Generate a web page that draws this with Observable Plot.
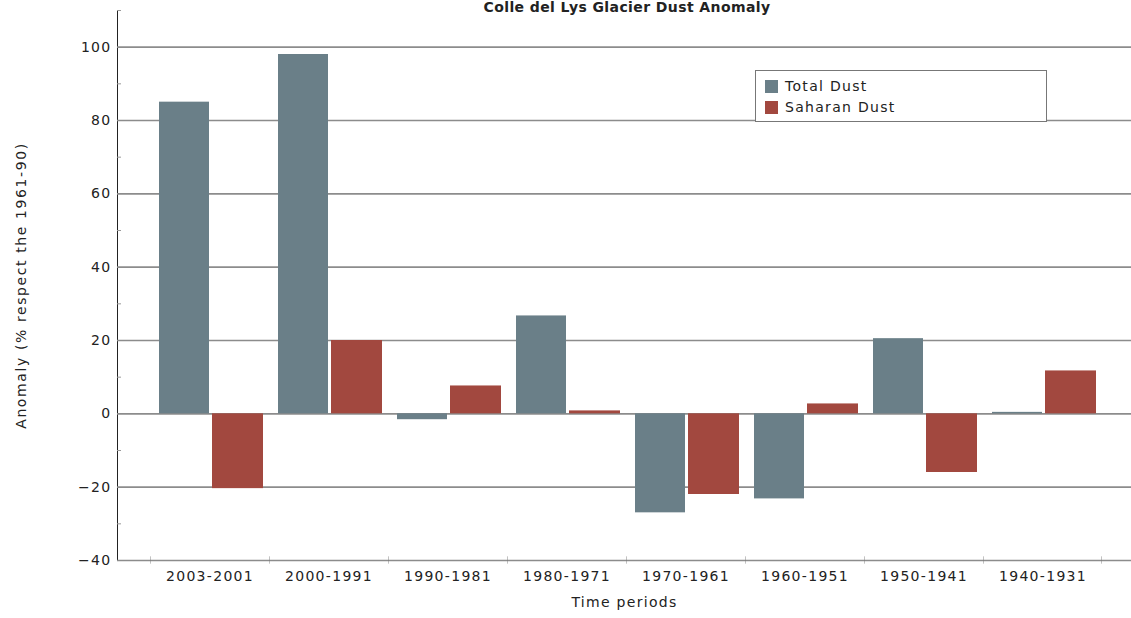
<!DOCTYPE html>
<html>
<head>
<meta charset="utf-8">
<script src="https://cdn.jsdelivr.net/npm/d3@7"></script>
<script src="https://cdn.jsdelivr.net/npm/@observablehq/plot@0.6"></script>
<style>
  html, body { margin: 0; padding: 0; background: #fff; overflow: hidden; }
  #wrap { position: relative; width: 1131px; height: 618px; font-family: "DejaVu Sans", sans-serif; }
  #title { position: absolute; left: 117px; width: 1020px; top: 0px; text-align: center; font-size: 14px; font-weight: bold; letter-spacing: 0.4px; line-height: 14px; color: #222; }
  #legend { position: absolute; left: 755px; top: 70px; width: 290px; height: 50px; border: 1px solid #777; background: #fff; font-size: 14px; letter-spacing: 1.3px; color: #222; }
  .item { position: absolute; left: 9px; display: flex; align-items: center; }
  .sw { width: 13px; height: 13px; margin-right: 7px; }
  #chart svg text { letter-spacing: 1.3px; }
  #chart g[aria-label="y-axis label"] text { font-size: 14px; letter-spacing: 1.6px; }
</style>
</head>
<body>
<div id="wrap">
  <div id="chart"></div>
  <div id="title">Colle del Lys Glacier Dust Anomaly</div>
  <div id="legend"></div>
</div>
<script>
const periods = ["2003-2001", "2000-1991", "1990-1981", "1980-1971", "1970-1961", "1960-1951", "1950-1941", "1940-1931"];
const totalDust = [85, 98, -1.6, 26.7, -27, -23.2, 20.5, 0.4];
const saharanDust = [-20.4, 20, 7.6, 0.8, -22, 2.7, -16, 11.7];
const seriesNames = ["Total Dust", "Saharan Dust"];
const seriesColors = ["#6a7f88", "#a2483f"];
const yTicks = [-40, -20, 0, 20, 40, 60, 80, 100];
const yMinorTicks = [-30, -10, 10, 30, 50, 70, 90, 110];

const W = 1131, H = 618, mL = 117, mR = 0, inL = 30, inR = 26;
const bw = (W - mL - mR - inL - inR) / periods.length;

const rows = periods.map((p, i) => ({period: p, total: totalDust[i], saharan: saharanDust[i]}));

const chart = Plot.plot({
  width: W,
  height: H,
  marginLeft: mL,
  marginRight: mR,
  marginTop: 10,
  marginBottom: 58,
  style: {fontFamily: "DejaVu Sans, sans-serif", fontSize: "14px", color: "#222", background: "#fff"},
  x: {domain: periods, padding: 0, insetLeft: inL, insetRight: inR, tickSize: 0, tickPadding: 11,
      label: "Time periods", labelAnchor: "center", labelOffset: 46, labelArrow: false},
  y: {domain: [-40, 110], ticks: yTicks, tickSize: 0, tickPadding: 6, line: true,
      label: "Anomaly (% respect the 1961-90)", labelAnchor: "center", labelOffset: 101, labelArrow: false},
  marks: [
    Plot.ruleY(yTicks, {stroke: "#8c8c8c", strokeWidth: 1.6}),
    Plot.ruleY(yMinorTicks, {stroke: "#999", strokeWidth: 1, insetRight: W - mL - mR - 4}),
    Plot.barY(rows, {x: "period", y: "total", fill: seriesColors[0], insetLeft: 9, insetRight: 60}),
    Plot.barY(rows, {x: "period", y: "saharan", fill: seriesColors[1], insetLeft: 62, insetRight: 6}),
    Plot.barY(periods, {x: d => d, y1: -41, y2: -39, fill: "#777", insetRight: bw - 1.2}),
    Plot.barY(periods.slice(-1), {x: d => d, y1: -41, y2: -39, fill: "#777", insetLeft: bw - 1.2})
  ]
});
document.getElementById("chart").appendChild(chart);

const legend = document.getElementById("legend");
seriesNames.forEach((name, i) => {
  const item = document.createElement("div");
  item.className = "item";
  item.style.top = (7 + i * 21) + "px";
  item.innerHTML = `<span class="sw" style="background:${seriesColors[i]}"></span><span>${name}</span>`;
  legend.appendChild(item);
});
</script>
</body>
</html>
